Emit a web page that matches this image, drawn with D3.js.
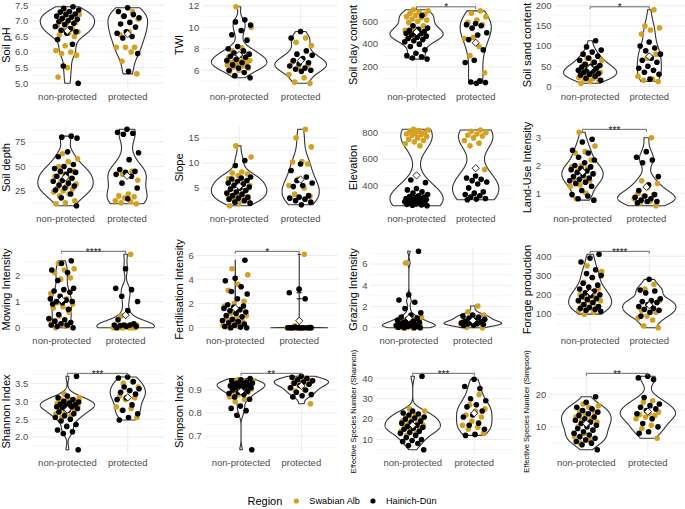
<!DOCTYPE html>
<html>
<head>
<meta charset="utf-8">
<script src="https://cdn.jsdelivr.net/npm/d3@7"></script>
<style>
	body { margin:0; background:#fff; }
	svg { display:block; font-family:"Liberation Sans", Arial, sans-serif; }
</style>
</head>
<body>
<div id="chart"></div>
<script>
'use strict';

const groups = ["non-protected", "protected"];
const regions = ["Swabian Alb", "Hainich-Dün"];
const regionColors = ["#D4A020", "#000000"];

const titles = ["Soil pH", "TWI", "Soil clay content", "Soil sand content",
				"Soil depth", "Slope", "Elevation", "Land-Use Intensity",
				"Mowing Intensity", "Fertilisation Intensity", "Grazing Intensity", "Forage production",
				"Shannon Index", "Simpson Index", "Effective Species Number (Shannon)", "Effective Species Number (Simpson)"];
const sigLabels = ["", "", "*", "*", "", "", "", "***", "****", "*", "", "****", "***", "**", "***", "**"];

// tick values, one list per panel
const ph_ticks = [5.0, 5.5, 6.0, 6.5, 7.0, 7.5];
const twi_ticks = [6, 8, 10, 12];
const clay_ticks = [200, 400, 600];
const sand_ticks = [0, 50, 100, 150, 200];
const depth_ticks = [25, 50, 75];
const slope_ticks = [5, 10, 15];
const elev_ticks = [400, 600, 800];
const lui_ticks = [1, 2, 3];
const mow_ticks = [0, 1, 2];
const fert_ticks = [0, 2, 4, 6];
const graz_ticks = [0, 2, 4, 6];
const forage_ticks = [100, 200, 300, 400];
const shan_ticks = [2.0, 2.5, 3.0, 3.5];
const simp_ticks = [0.7, 0.8, 0.9];
const esnSh_ticks = [10, 20, 30, 40];
const esnSi_ticks = [10, 20];

// values: np = non-protected, p = protected, Alb = Swabian Alb, Hai = Hainich-Dün
const ph_npAlb = [7.3, 7.2, 7.1, 7.0, 6.95, 6.9, 6.85, 6.75, 6.7, 6.65, 6.6, 6.55, 6.5, 6.2, 6.05, 6.0, 5.95, 5.9, 5.5, 5.2];
const ph_npHai = [7.45, 7.4, 7.35, 7.3, 7.28, 7.22, 7.2, 7.15, 7.12, 7.08, 7.05, 7.0, 6.98, 6.92, 6.88, 6.82, 6.75, 6.7, 6.65, 6.6, 6.4, 6.25, 5.55, 5.0];
const ph_pAlb = [7.3, 7.15, 7.05, 6.65, 6.55, 6.15, 6.15, 6.15, 6.0, 5.7, 5.3];
const ph_pHai = [7.42, 7.3, 7.2, 7.15, 7.1, 6.95, 6.9, 6.8, 6.65, 6.6, 6.5, 6.45, 5.95, 5.38];

const twi_npAlb = [11.9, 10.0, 8.1, 7.8, 7.5, 7.3, 7.2, 7.0, 6.9, 6.9, 6.8, 6.7, 6.6, 6.6, 6.5, 6.4, 6.3, 6.2, 6.0, 5.9];
const twi_npHai = [10.7, 10.5, 10.2, 9.7, 9.3, 8.8, 8.2, 8.0, 7.8, 7.6, 7.5, 7.4, 7.3, 7.2, 7.0, 6.9, 6.7, 6.5, 6.3, 6.2, 6.0, 5.8, 5.5, 5.3];
const twi_pAlb = [9.0, 8.6, 8.3, 7.0, 6.8, 6.5, 6.3, 5.6, 5.3, 4.9, 4.8];
const twi_pHai = [9.6, 9.0, 7.8, 7.5, 7.4, 7.1, 6.9, 6.7, 6.6, 6.4, 6.2, 6.1, 6.0, 5.9];

const clay_npAlb = [700, 690, 680, 670, 660, 650, 640, 630, 620, 610, 600, 590, 560, 540, 520, 500, 480, 470, 460, 450];
const clay_npHai = [650, 560, 540, 530, 520, 510, 500, 495, 490, 480, 470, 460, 450, 440, 430, 420, 400, 380, 350, 320, 300, 290, 280, 270];
const clay_pAlb = [690, 670, 640, 610, 590, 570, 460, 450, 380, 300, 150];
const clay_pHai = [580, 570, 560, 540, 500, 480, 440, 350, 260, 240, 80, 70, 65, 60];

const sand_npAlb = [70, 65, 60, 55, 50, 45, 42, 40, 38, 35, 30, 30, 28, 25, 22, 20, 18, 15, 12, 8];
const sand_npHai = [113, 98, 90, 85, 80, 75, 70, 65, 60, 55, 52, 50, 48, 45, 42, 40, 38, 35, 32, 30, 28, 25, 20, 15];
const sand_pAlb = [190, 150, 145, 140, 130, 80, 70, 25, 18, 15, 12];
const sand_pHai = [110, 100, 95, 88, 80, 70, 65, 60, 50, 45, 40, 35, 30, 18];

const depth_npAlb = [63, 58, 55, 50, 45, 42, 40, 38, 35, 32, 30, 28, 27, 25, 24, 22, 20, 15, 13, 12];
const depth_npHai = [81, 80, 79, 65, 60, 52, 50, 48, 46, 45, 44, 42, 40, 38, 36, 35, 33, 31, 30, 28, 26, 22, 18, 10];
const depth_pAlb = [45, 42, 36, 22, 20, 19, 18, 15, 14, 13, 12];
const depth_pHai = [88, 85, 84, 83, 64, 57, 47, 45, 44, 42, 40, 33, 28, 17];

const slope_npAlb = [13.4, 11.2, 8.2, 8.0, 7.8, 7.5, 6.9, 6.2, 6.0, 5.5, 5.0, 4.8, 4.5, 4.0, 3.8, 3.5, 3.0, 2.5, 2.0, 1.5];
const slope_npHai = [10.5, 9.5, 7.2, 7.0, 6.8, 6.5, 6.3, 6.0, 5.8, 5.5, 5.2, 5.0, 4.8, 4.5, 4.2, 4.0, 3.8, 3.5, 3.2, 3.0, 2.8, 2.5, 2.2, 2.0];
const slope_pAlb = [16.7, 15.0, 13.2, 10.3, 10.2, 9.8, 6.8, 5.5, 5.0, 3.8, 3.4];
const slope_pHai = [9.8, 8.5, 7.2, 6.5, 6.0, 5.5, 5.3, 3.5, 3.2, 3.0, 2.8, 2.5, 2.2, 1.7];

const elev_npAlb = [825, 820, 815, 810, 800, 795, 790, 785, 780, 770, 760, 750, 740, 730, 715, 700];
const elev_npHai = [440, 420, 375, 365, 350, 340, 330, 320, 315, 310, 305, 300, 298, 295, 292, 290, 285, 282, 280, 275, 270, 265, 262, 258, 255, 250, 248, 245];
const elev_pAlb = [820, 810, 800, 790, 780, 775, 760, 740, 720, 700, 520];
const elev_pHai = [470, 455, 445, 435, 425, 410, 380, 350, 340, 330, 320, 310, 300, 295, 290];

const lui_npAlb = [3.2, 2.7, 2.5, 2.45, 2.2, 2.0, 1.95, 1.9, 1.8, 1.7, 1.6, 1.5, 1.45, 1.3, 1.25, 1.0, 0.8];
const lui_npHai = [2.95, 2.85, 2.55, 2.45, 2.3, 2.2, 2.1, 2.0, 1.95, 1.9, 1.85, 1.8, 1.75, 1.7, 1.65, 1.6, 1.55, 1.5, 1.45, 1.4, 1.35, 1.25, 1.1, 0.95, 0.9, 0.8, 0.75];
const lui_pAlb = [3.0, 1.45, 1.35, 1.2, 1.0, 0.95, 0.9, 0.8, 0.7, 0.65, 0.55];
const lui_pHai = [2.5, 2.3, 2.2, 2.1, 1.6, 1.3, 1.1, 0.95, 0.9, 0.85, 0.8, 0.75, 0.7, 0.7, 0.65];

const mow_npAlb = [2.45, 2.25, 2.2, 2.1, 1.9, 1.85, 1.3, 1.1, 0.95, 0.9, 0.8, 0.75, 0.6, 0.45, 0.3, 0.05, 0.0];
const mow_npHai = [2.55, 2.45, 2.2, 2.1, 1.8, 1.5, 1.45, 1.4, 1.35, 1.2, 1.1, 1.05, 1.0, 1.0, 0.95, 0.9, 0.7, 0.5, 0.35, 0.3, 0.25, 0.2, 0.15, 0.1, 0.1, 0.05, 0.0];
const mow_pAlb = [2.8, 0.45, 0.1, 0.05, 0.05, 0.0, 0.0, 0.0, 0.0, 0.0, 0.0];
const mow_pHai = [2.25, 1.5, 1.45, 1.2, 1.0, 0.65, 0.3, 0.15, 0.1, 0.1, 0.1, 0.08, 0.05, 0.05, 0.0];

const fert_npAlb = [4.9, 4.4, 3.6, 3.1, 2.2, 2.0, 1.8, 1.5, 1.2, 1.0, 0.9, 0.8, 0.5, 0.4, 0.2, 0.1, 0.0];
const fert_npHai = [5.6, 4.1, 3.9, 3.4, 3.0, 2.8, 2.4, 1.9, 1.8, 1.7, 1.6, 1.5, 1.4, 1.3, 1.2, 1.0, 0.9, 0.7, 0.6, 0.5, 0.4, 0.3, 0.2, 0.1, 0.05, 0.0, 0.0];
const fert_pAlb = [6.1, 0.15, 0.05, 0.0, 0.0, 0.0, 0.0, 0.0, 0.0, 0.0, 0.0];
const fert_pHai = [3.2, 2.9, 2.4, 0.05, 0.0, 0.0, 0.0, 0.0, 0.0, 0.0, 0.0, 0.0, 0.0, 0.0, 0.0];

const graz_npAlb = [6.1, 1.0, 0.9, 0.8, 0.7, 0.6, 0.5, 0.4, 0.3, 0.3, 0.2, 0.2, 0.1, 0.1, 0.05, 0.0, 0.0];
const graz_npHai = [7.2, 3.1, 2.6, 2.4, 1.8, 1.4, 1.2, 1.0, 0.9, 0.8, 0.7, 0.6, 0.5, 0.5, 0.4, 0.4, 0.3, 0.3, 0.2, 0.2, 0.15, 0.1, 0.1, 0.05, 0.0, 0.0, 0.0];
const graz_pAlb = [2.05, 1.5, 1.2, 1.0, 0.8, 0.5, 0.4, 0.35, 0.3, 0.05, 0.0];
const graz_pHai = [1.2, 1.1, 1.0, 0.9, 0.8, 0.7, 0.6, 0.55, 0.5, 0.45, 0.4, 0.35, 0.3, 0.25, 0.2];

const forage_npAlb = [350, 320, 290, 265, 230, 220, 200, 190, 180, 170, 160, 150, 140, 130, 120, 110, 100];
const forage_npHai = [410, 390, 370, 330, 310, 300, 290, 260, 250, 240, 230, 220, 210, 200, 195, 190, 180, 175, 170, 160, 150, 140, 135, 130, 125, 120, 115];
const forage_pAlb = [255, 230, 170, 150, 120, 110, 90, 80, 70, 40, 30];
const forage_pHai = [280, 225, 220, 210, 180, 170, 165, 160, 150, 140, 130, 125, 120, 110, 90];

const shan_npAlb = [3.2, 3.1, 3.05, 3.05, 3.0, 3.0, 2.95, 2.9, 2.9, 2.85, 2.8, 2.8, 2.75, 2.7, 2.65, 2.6, 2.55];
const shan_npHai = [3.7, 3.15, 3.1, 3.05, 3.0, 2.98, 2.95, 2.92, 2.9, 2.88, 2.85, 2.85, 2.82, 2.8, 2.75, 2.7, 2.65, 2.6, 2.55, 2.5, 2.45, 2.35, 2.3, 2.2, 2.15, 2.1, 1.65];
const shan_pAlb = [3.55, 3.5, 3.4, 3.3, 3.15, 3.1, 3.05, 2.85, 2.8, 2.75, 2.55];
const shan_pHai = [3.68, 3.65, 3.55, 3.4, 3.35, 3.3, 3.25, 3.2, 3.1, 3.05, 2.9, 2.75, 2.65, 2.55, 2.48];

const simp_npAlb = [0.945, 0.94, 0.94, 0.935, 0.93, 0.925, 0.92, 0.915, 0.91, 0.905, 0.9, 0.895, 0.89, 0.88, 0.87, 0.86, 0.85];
const simp_npHai = [0.95, 0.945, 0.94, 0.935, 0.93, 0.93, 0.928, 0.925, 0.92, 0.92, 0.918, 0.915, 0.912, 0.91, 0.905, 0.9, 0.895, 0.89, 0.885, 0.88, 0.87, 0.86, 0.83, 0.82, 0.81, 0.79, 0.64];
const simp_pAlb = [0.95, 0.945, 0.94, 0.935, 0.93, 0.925, 0.92, 0.91, 0.9, 0.895, 0.84];
const simp_pHai = [0.96, 0.955, 0.95, 0.945, 0.94, 0.935, 0.93, 0.925, 0.92, 0.91, 0.9, 0.89, 0.88, 0.875, 0.87];

const esnSh_npAlb = [25, 24, 22, 21, 20, 20, 19, 18, 18, 17, 16.5, 16, 15, 15, 14, 13, 12];
const esnSh_npHai = [41, 24, 23, 22.5, 22, 21, 20.5, 20, 19, 18.5, 18, 17, 16.5, 16, 15.5, 15, 14, 13.5, 13, 12, 11, 10, 9.5, 9, 8, 7, 5];
const esnSh_pAlb = [32, 27, 25, 24, 22, 21, 19, 17, 16, 15, 13];
const esnSh_pHai = [39.5, 36, 35, 30, 29, 27, 26, 24, 22, 21, 18, 17, 15, 12.5, 12];

const esnSi_npAlb = [17, 16.5, 16, 15, 14.5, 14, 13, 12.5, 12, 11.5, 11, 10, 9, 8, 7, 6, 5];
const esnSi_npHai = [19.2, 17.5, 16, 15.5, 15, 14.5, 14, 13.5, 13, 12.5, 12, 11.5, 11, 10.5, 10, 9.5, 9, 8.5, 8, 7.5, 7, 6.5, 6, 5.5, 5, 4.5, 3];
const esnSi_pAlb = [18, 17.5, 14.5, 14, 13.8, 13.5, 13, 12.5, 10.5, 9.5, 6.5];
const esnSi_pHai = [25.5, 25, 24.5, 19, 17, 16.5, 16, 15.5, 15, 14, 12.5, 11, 10, 8.5, 8];

// panel table built from the arrays above
const panelValues = [
	[ph_npAlb, ph_npHai, ph_pAlb, ph_pHai, ph_ticks],
	[twi_npAlb, twi_npHai, twi_pAlb, twi_pHai, twi_ticks],
	[clay_npAlb, clay_npHai, clay_pAlb, clay_pHai, clay_ticks],
	[sand_npAlb, sand_npHai, sand_pAlb, sand_pHai, sand_ticks],
	[depth_npAlb, depth_npHai, depth_pAlb, depth_pHai, depth_ticks],
	[slope_npAlb, slope_npHai, slope_pAlb, slope_pHai, slope_ticks],
	[elev_npAlb, elev_npHai, elev_pAlb, elev_pHai, elev_ticks],
	[lui_npAlb, lui_npHai, lui_pAlb, lui_pHai, lui_ticks],
	[mow_npAlb, mow_npHai, mow_pAlb, mow_pHai, mow_ticks],
	[fert_npAlb, fert_npHai, fert_pAlb, fert_pHai, fert_ticks],
	[graz_npAlb, graz_npHai, graz_pAlb, graz_pHai, graz_ticks],
	[forage_npAlb, forage_npHai, forage_pAlb, forage_pHai, forage_ticks],
	[shan_npAlb, shan_npHai, shan_pAlb, shan_pHai, shan_ticks],
	[simp_npAlb, simp_npHai, simp_pAlb, simp_pHai, simp_ticks],
	[esnSh_npAlb, esnSh_npHai, esnSh_pAlb, esnSh_pHai, esnSh_ticks],
	[esnSi_npAlb, esnSi_npHai, esnSi_pAlb, esnSi_pHai, esnSi_ticks]
];

const W = 685, H = 509;
const colX0 = -1, colW = 173.6;
const rowTop = [3, 125.5, 247.5, 369.5];
const plotH = 84;
const gridCol = "#EBEBEB";
const textCol = "#4D4D4D";

const svg = d3.select("#chart")
			  .append("svg")
			  .attr("width", W)
			  .attr("height", H);

// gaussian kernel density, bw.nrd0, trimmed to the data range (like geom_violin)
function density(values) {
	const v = values.slice().sort(d3.ascending);
	const n = v.length;
	const sd = d3.deviation(v);
	const iqr = d3.quantile(v, 0.75) - d3.quantile(v, 0.25);
	let lo = Math.min(sd, iqr / 1.34);
	if (!lo) lo = sd || Math.abs(v[0]) || 1;
	const bw = 0.9 * lo * Math.pow(n, -0.2);
	const a = v[0], b = v[n - 1];
	return d3.range(512).map(i => {
		const y = a + (b - a) * i / 511;
		const d = d3.sum(v, x => Math.exp(-0.5 * ((y - x) / bw) ** 2)) / (n * bw * Math.sqrt(2 * Math.PI));
		return { y:y, d:d };
	});
}

// fixed spread for the jittered points
function jitter(i) {
	return ((i * 0.6180339 + 0.37) % 1 - 0.5) * 0.4;
}

function textWidth(str, size) {
	const t = svg.append("text").attr("font-size", size).text(str);
	const w = t.node().getComputedTextLength();
	t.remove();
	return w;
}

panelValues.forEach((pv, k) => {
	const col = k % 4, row = Math.floor(k / 4);
	const x0 = colX0 + col * colW;
	const top = rowTop[row], bottom = top + plotH;
	const right = x0 + 165;
	const ticks = pv[4];
	const sets = [[pv[0], pv[1]], [pv[2], pv[3]]];
	const all = [].concat(pv[0], pv[1], pv[2], pv[3]);
	const sig = sigLabels[k];

	let lo = d3.min(all), hi = d3.max(all);
	let bracket = null;
	if (sig) {
		bracket = hi + (hi - lo) * 0.04;
		hi = bracket;
	}
	const span = hi - lo;
	const y = d3.scaleLinear()
				.domain([lo - span * 0.05, hi + span * 0.05])
				.range([bottom, top]);

	const fmt = ticks.some(t => t % 1 !== 0) ? d3.format(".1f") : d3.format("d");
	const tickW = d3.max(ticks, t => textWidth(fmt(t), 9.5));
	const left = x0 + 16 + tickW + 3;

	const x = d3.scalePoint()
				.domain(groups)
				.range([left, right])
				.padding(0.6);
	const unit = x.step();

	const g = svg.append("g").attr("class", `panel-${k}`);

	// minor grid
	const minors = [];
	const tstep = ticks.length > 1 ? ticks[1] - ticks[0] : 10;
	for (let t = ticks[0] - tstep / 2; t <= ticks[ticks.length - 1] + tstep; t += tstep) {
		if (t >= y.domain()[0] && t <= y.domain()[1]) minors.push(t);
	}
	g.selectAll(".minor")
	 .data(minors)
	 .join("line")
	 .attr("x1", left).attr("x2", right)
	 .attr("y1", d => y(d)).attr("y2", d => y(d))
	 .attr("stroke", gridCol).attr("stroke-width", 0.5);

	g.selectAll(".major")
	 .data(ticks)
	 .join("line")
	 .attr("x1", left).attr("x2", right)
	 .attr("y1", d => y(d)).attr("y2", d => y(d))
	 .attr("stroke", gridCol).attr("stroke-width", 1);

	g.selectAll(".vmajor")
	 .data(groups)
	 .join("line")
	 .attr("x1", d => x(d)).attr("x2", d => x(d))
	 .attr("y1", top).attr("y2", bottom)
	 .attr("stroke", gridCol).attr("stroke-width", 1);

	// violins, scale = "area"
	const dens = sets.map(s => density(s[0].concat(s[1])));
	const maxD = d3.max(dens, ds => d3.max(ds, p => p.d));
	dens.forEach((ds, gi) => {
		const cx = x(groups[gi]);
		const pts = ds.map(p => [cx + p.d / maxD * 0.45 * unit, y(p.y)])
					  .concat(ds.slice().reverse().map(p => [cx - p.d / maxD * 0.45 * unit, y(p.y)]));
		g.append("path")
		 .attr("d", d3.line()(pts) + "Z")
		 .attr("fill", "#fff")
		 .attr("stroke", "#333")
		 .attr("stroke-width", 1.1);
	});

	// jittered points
	sets.forEach((s, gi) => {
		const pts = s[0].map(v => ({ v:v, r:0 })).concat(s[1].map(v => ({ v:v, r:1 })));
		g.selectAll(`.pt-${gi}`)
		 .data(pts)
		 .join("circle")
		 .attr("cx", (d, i) => x(groups[gi]) + jitter(i + gi * 7) * unit)
		 .attr("cy", d => y(d.v))
		 .attr("r", 2.8)
		 .attr("fill", d => regionColors[d.r]);
	});

	// means
	g.selectAll(".mean")
	 .data(sets.map(s => d3.mean(s[0].concat(s[1]))))
	 .join("path")
	 .attr("d", d3.symbol(d3.symbolSquare, 26))
	 .attr("transform", (d, i) => `translate(${x(groups[i])},${y(d)}) rotate(45)`)
	 .attr("fill", "#fff")
	 .attr("stroke", "#000")
	 .attr("stroke-width", 0.8);

	// significance bracket
	if (sig) {
		const by = y(bracket);
		const tip = y(bracket - span * 0.03) - by;
		const x1 = x(groups[0]), x2 = x(groups[1]);
		g.append("path")
		 .attr("d", `M${x1},${by + tip}V${by}H${x2}V${by + tip}`)
		 .attr("fill", "none")
		 .attr("stroke", "#666")
		 .attr("stroke-width", 1);
		g.append("text")
		 .attr("x", (x1 + x2) / 2)
		 .attr("y", by + 4.5)
		 .attr("text-anchor", "middle")
		 .attr("font-size", 10)
		 .attr("fill", "#222")
		 .text(sig);
	}

	// axis labels
	g.selectAll(".ytick")
	 .data(ticks)
	 .join("text")
	 .attr("x", left - 3)
	 .attr("y", d => y(d))
	 .attr("dy", "0.35em")
	 .attr("text-anchor", "end")
	 .attr("font-size", 9.5)
	 .attr("fill", textCol)
	 .text(fmt);

	g.selectAll(".xtick")
	 .data(groups)
	 .join("text")
	 .attr("x", d => x(d))
	 .attr("y", bottom + 9.5)
	 .attr("dy", "0.35em")
	 .attr("text-anchor", "middle")
	 .attr("font-size", 9.5)
	 .attr("fill", textCol)
	 .text(d => d);

	const small = titles[k].length > 25;
	g.append("text")
	 .attr("transform", `translate(${x0 + 7},${(top + bottom) / 2}) rotate(-90)`)
	 .attr("dy", "0.35em")
	 .attr("text-anchor", "middle")
	 .attr("font-size", small ? 7.5 : 11)
	 .attr("fill", "#000")
	 .text(titles[k]);
});

// legend
const legY = 501;
const lg = svg.append("g").attr("class", "legend");
const wRegion = textWidth("Region", 11);
const wItems = regions.map(r => textWidth(r, 9.2));
const total = wRegion + 10 + d3.sum(wItems) + regions.length * 16 + 12;
let lx = W / 2 - total / 2;
lg.append("text")
  .attr("x", lx).attr("y", legY).attr("dy", "0.35em")
  .attr("font-size", 11).attr("fill", "#000")
  .text("Region");
lx += wRegion + 14;
regions.forEach((r, i) => {
	lg.append("circle")
	  .attr("cx", lx).attr("cy", legY)
	  .attr("r", 2.6)
	  .attr("fill", regionColors[i]);
	lg.append("text")
	  .attr("x", lx + 13).attr("y", legY).attr("dy", "0.35em")
	  .attr("font-size", 9.2).attr("fill", "#000")
	  .text(r);
	lx += 13 + wItems[i] + 13;
});
</script>
</body>
</html>
